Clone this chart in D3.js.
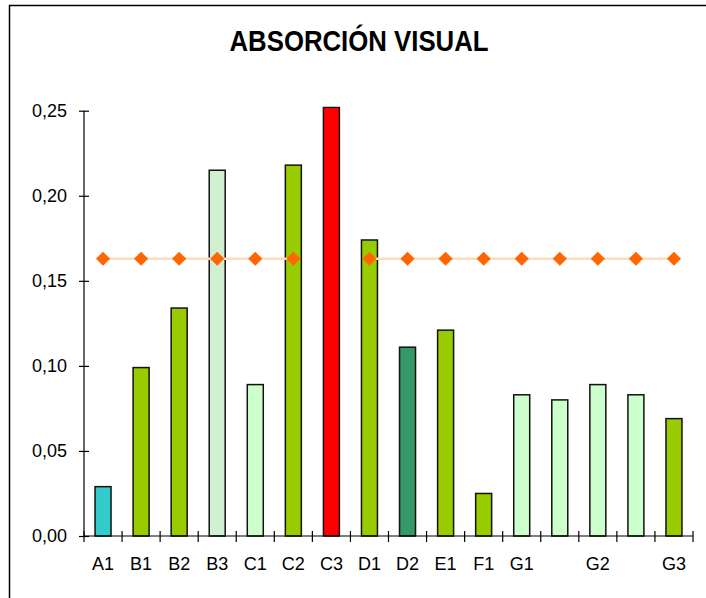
<!DOCTYPE html>
<html>
<head>
<meta charset="utf-8">
<script src="https://cdn.jsdelivr.net/npm/d3@7"></script>
<style>
  html, body { margin: 0; padding: 0; background: #fff; }
  svg { display: block; }
  text { font-family: "Liberation Sans", Arial, sans-serif; }
</style>
</head>
<body>
<svg id="chart" width="706" height="598"></svg>
<script>
// ---- data ----
const categories = ["A1","B1","B2","B3","C1","C2","C3","D1","D2","E1","F1","G1","","G2","","G3"];
const values     = [0.029,0.099,0.134,0.215,0.089,0.218,0.252,0.174,0.111,0.121,0.025,0.083,0.080,0.089,0.083,0.069];
const barColors  = ["#33CCCC","#99CC00","#99CC00","#D1F0D1","#CCFFCC","#99CC00","#FF0000","#99CC00","#339966","#99CC00","#99CC00","#CCFFCC","#CCFFCC","#CCFFCC","#CCFFCC","#99CC00"];
const refValues  = [0.163,0.163,0.163,0.163,0.163,0.163,null,0.163,0.163,0.163,0.163,0.163,0.163,0.163,0.163,0.163];
const yTicks     = [0, 0.05, 0.10, 0.15, 0.20, 0.25];
const yTickLabels = ["0,00","0,05","0,10","0,15","0,20","0,25"];
const title = "ABSORCIÓN VISUAL";

(function () {
const svg = d3.select("#chart");

// frame
svg.append("rect")
  .attr("x", 9.5).attr("y", 5.5).attr("width", 720).attr("height", 620)
  .attr("fill", "none").attr("stroke", "#000").attr("stroke-width", 1.5);

// title
svg.append("text")
  .attr("x", 359).attr("y", 51)
  .attr("text-anchor", "middle")
  .attr("font-size", 30).attr("font-weight", "bold")
  .attr("textLength", 259).attr("lengthAdjust", "spacingAndGlyphs")
  .text(title);

const pLeft = 84, pRight = 693, pTop = 110.7, pBottom = 536;
const idx = categories.map((d, i) => i);
const p = 0.58;
const x = d3.scaleBand().domain(idx).range([pLeft, pRight]).paddingInner(p).paddingOuter(p / 2);
const y = d3.scaleLinear().domain([0, 0.25]).range([pBottom, pTop]);

// clip for plot area
svg.append("clipPath").attr("id", "plotclip")
  .append("rect").attr("x", pLeft).attr("y", y(0.2524)).attr("width", pRight - pLeft).attr("height", pBottom - y(0.2524) + 1);

// bars
svg.append("g").attr("clip-path", "url(#plotclip)")
  .selectAll("rect").data(idx).join("rect")
  .attr("x", i => x(i))
  .attr("y", i => y(values[i]))
  .attr("width", x.bandwidth())
  .attr("height", i => y(0) - y(values[i]))
  .attr("fill", i => barColors[i])
  .attr("stroke", "#111").attr("stroke-width", 1.5);

// reference line
const cx = i => x(i) + x.bandwidth() / 2;
svg.append("path")
  .datum(idx)
  .attr("d", d3.line().defined(i => refValues[i] != null).x(i => cx(i)).y(i => y(refValues[i])))
  .attr("fill", "none").attr("stroke", "#FDDCBC").attr("stroke-width", 2.5);

svg.append("g").selectAll("path").data(idx.filter(i => refValues[i] != null)).join("path")
  .attr("d", d3.symbol().type(d3.symbolSquare).size(100))
  .attr("transform", i => `translate(${cx(i)},${y(refValues[i])}) rotate(45)`)
  .attr("fill", "#FF6600");

// y axis
const yAxis = d3.axisLeft(y).tickValues(yTicks)
  .tickFormat((d, i) => yTickLabels[i]).tickSize(5).tickPadding(12);
const gy = svg.append("g").attr("transform", `translate(${pLeft},0)`).call(yAxis);
gy.select(".domain").attr("d", `M0,${pBottom}V${pTop}`).attr("stroke", "#000").attr("stroke-width", 1.2);
gy.selectAll(".tick line").attr("x2", -5).attr("x1", 5).attr("stroke", "#000").attr("stroke-width", 1.2);
gy.selectAll(".tick text").attr("font-size", 18).attr("fill", "#000")
  .attr("font-family", "'Liberation Sans', Arial, sans-serif");

// x axis
const xAxis = d3.axisBottom(x).tickFormat(i => categories[i]).tickSize(0).tickPadding(21);
const gx = svg.append("g").attr("transform", `translate(0,${pBottom})`).call(xAxis);
gx.select(".domain").attr("d", `M${pLeft},0H${pRight}`).attr("stroke", "#000").attr("stroke-width", 1.2);
gx.selectAll(".tick text").attr("font-size", 18).attr("fill", "#000")
  .attr("font-family", "'Liberation Sans', Arial, sans-serif");
const step = x.step();
const boundaries = d3.range(categories.length + 1).map(k => pLeft + k * step);
gx.selectAll(".bound").data(boundaries).join("line")
  .attr("class", "bound")
  .attr("x1", d => d).attr("x2", d => d)
  .attr("y1", -5).attr("y2", 6)
  .attr("stroke", "#000").attr("stroke-width", 1.2);
})();
</script>
</body>
</html>
